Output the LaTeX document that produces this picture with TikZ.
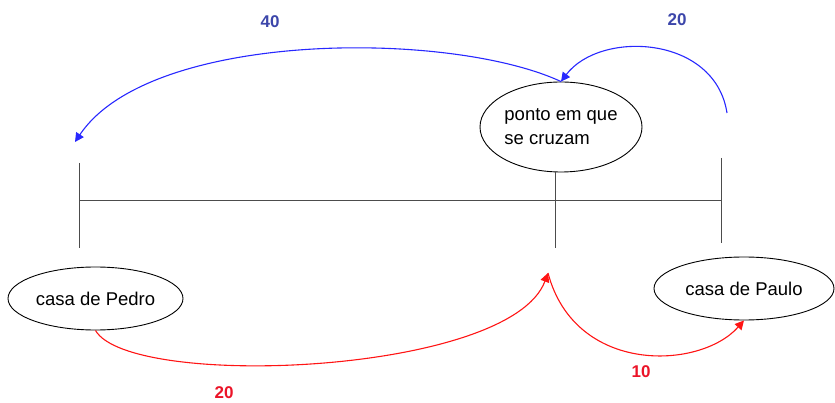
\documentclass[tikz,border=0pt]{standalone}
\usepackage{fontspec}
\setmainfont{Liberation Sans}
\usepackage{tikz}
\usetikzlibrary{positioning, shapes.geometric, arrows.meta}
\usepackage{xcolor}

\definecolor{caminhoazul}{RGB}{40,40,255}
\definecolor{rotuloazul}{RGB}{60,70,170}
\definecolor{caminhovermelho}{RGB}{255,20,20}
\definecolor{rotulovermelho}{RGB}{235,20,40}

\tikzset{
  lugar/.style={draw, ellipse, inner sep=0pt, line width=0.9pt, font=\fontsize{18.5}{24}\selectfont},
  regua/.style={draw=black!70, line width=0.9pt},
  trajeto/.style={line width=1.1pt, -{Triangle[length=9pt, width=9pt]}},
  rotulo/.style={font=\fontsize{17}{20}\selectfont\bfseries}
}

\begin{document}
\begin{tikzpicture}[x=1pt, y=-1pt]
    \useasboundingbox (0,0) rectangle (835,403);

    % The places
    \node[lugar, minimum width=162pt, minimum height=90pt, align=left] (cruzam) at (561,127) {ponto em que\\se cruzam};
    \node[lugar, minimum width=175pt, minimum height=63pt] (pedro) at (95.5,298.5) {casa de Pedro};
    \node[lugar, minimum width=180pt, minimum height=63pt] (paulo) at (744,288.5) {casa de Paulo};

    % End points of the ruler and the ticks
    \coordinate (linhaE) at (79,200);
    \coordinate (linhaD) at (721,200);
    \coordinate (marcaEcima) at (79,163);
    \coordinate (marcaEbaixo) at (79,248);
    \coordinate (marcaMcima) at (555,172);
    \coordinate (marcaMbaixo) at (555,248);
    \coordinate (marcaDcima) at (721,158);
    \coordinate (marcaDbaixo) at (721,243);

    % Free ends of the curves
    \coordinate (chegada) at (75,142);
    \coordinate (retorno) at (727,113);
    \coordinate (encontro) at (548,273);

    % The ruler
    \draw[regua] (linhaE) -- (linhaD);
    \draw[regua] (marcaEcima) -- (marcaEbaixo);
    \draw[regua] (marcaMcima) -- (marcaMbaixo);
    \draw[regua] (marcaDcima) -- (marcaDbaixo);

    % Blue paths
    \draw[trajeto, caminhoazul] (retorno) .. controls (715,35) and (600,30) .. (cruzam.north);
    \draw[trajeto, caminhoazul] (cruzam.north) .. controls (450,30) and (150,30) .. (chegada);

    % Red paths
    \draw[trajeto, caminhovermelho] (pedro.south) .. controls (130,390) and (510,375) .. (encontro);
    \draw[trajeto, caminhovermelho] (encontro) .. controls (575,375) and (700,370) .. (paulo.south);

    % Labels
    \node[rotulo, rotuloazul] (quarenta) at (270,22) {40};
    \node[rotulo, rotuloazul] (vinteA) at (677,20) {20};
    \node[rotulo, rotulovermelho] (vinteB) at (224,393) {20};
    \node[rotulo, rotulovermelho] (dez) at (641,372) {10};

\end{tikzpicture}
\end{document}
